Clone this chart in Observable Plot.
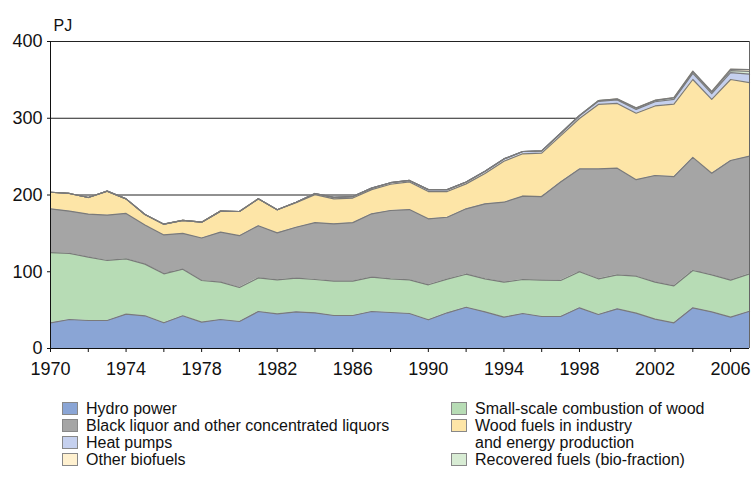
<!DOCTYPE html>
<html>
<head>
<meta charset="utf-8">
<script src="https://cdn.jsdelivr.net/npm/d3@7"></script>
<script src="https://cdn.jsdelivr.net/npm/@observablehq/plot@0.6"></script>
<style>
  body { margin: 0; background: #fff; font-family: "Liberation Sans", Arial, sans-serif; }
  #chart { width: 755px; }
  .legend { display: grid; grid-template-columns: 389px 300px; padding-left: 62px; padding-top: 10px; font-size: 16px; line-height: 17px; color: #111; }
  .item { display: flex; align-items: flex-start; }
  .sw { width: 14px; height: 11px; border: 1px solid #888; margin-right: 8px; margin-top: 2px; flex: none; }
</style>
</head>
<body>
<div id="chart"></div>
<script>
const years = d3.range(1970, 2008);
const seriesNames = ["Hydro power", "Small-scale combustion of wood", "Black liquor and other concentrated liquors", "Wood fuels in industry and energy production", "Heat pumps", "Recovered fuels (bio-fraction)", "Other biofuels"];
const seriesColors = ["#8aa5d5", "#b7dcb5", "#a5a5a5", "#fde5a7", "#c5d0ee", "#d8ecd4", "#fff1d0"];
const hydro = [33.5,37.8,36.5,36.5,44.7,42.6,33.5,42.6,34.3,37.8,35.2,48.2,45,47.8,46.5,43,43,48.2,46.9,45.6,37.4,46.5,53.8,47.8,40.8,45.6,41.7,41.7,53,44.3,51.7,46,38.2,33.5,53,47.8,40.8,48.6];
const smallScale = [91.5,86.2,82.5,78.2,72.1,67.3,63.8,60.8,54.3,48.6,44.3,43.8,44.5,43.8,43.4,44.7,44.7,44.7,43.9,43.9,45.6,43.8,43,43,45.6,44.3,47.3,46.9,47,46.5,44.3,48.2,48.2,48.2,48.6,48.2,48.2,48.7];
const blackLiquor = [57,55,56,59,59.2,51.1,50.7,46.6,55.4,65.2,67.5,68,61.2,66.4,74.1,74.7,76.3,82.6,89,91.5,86,80.7,85.2,97.7,104.2,108.6,109,128.4,134,143.2,139,125.8,139,142.3,147.4,132.4,156,153.3];
const woodFuels = [21.6,23,21.7,31.3,19,13.6,14,17,20.6,27.4,31.5,35,30,32.1,36.5,32.6,32,31.5,34.2,36,35.5,33.5,32.5,39.5,53.4,55.2,56.5,60,65.6,84,84.3,86.5,90.6,94.5,101.5,96.1,105.5,95.9];
const heatPumps = [0,0,0,0,0,0,0,0,0,0,0,0,0,0.5,1.5,2,2,2,2,2,2.5,2.5,2.5,3,3,3,3,3,3.5,4,4.5,5,5.5,6,8,7.5,9,11];
const recovered = [0,0,0,0,0,0,0,0,0,0,0,0,0,0,0,0,0,0,0,0,0,0,0,0,0,0,0,0.5,0.5,1,1,1.5,1.5,2,2,2,2.5,3.5];
const otherBio = [0,0,0,0,0,0,0,0,0,0,0,0,0,0,0,0,0,0,0,0,0,0,0,0,0,0,0,0,0,0,0.5,0.5,0.5,0.5,1,1,2,2.5];
const yTicks = [0, 100, 200, 300, 400];
const xMinorTicks = d3.range(1970, 2007, 2);
const xLabelTicks = d3.range(1970, 2007, 4);

const seriesValues = [hydro, smallScale, blackLiquor, woodFuels, heatPumps, recovered, otherBio];
const data = [];
seriesNames.forEach((name, i) => {
  years.forEach((yr, j) => data.push({year: yr, series: name, value: seriesValues[i][j]}));
});

const stackOpts = {x: "year", y: "value", z: "series", order: seriesNames};

const plot = Plot.plot({
  width: 755,
  height: 390,
  marginTop: 41,
  marginBottom: 42,
  marginLeft: 50,
  marginRight: 6,
  style: {fontFamily: "'Liberation Sans', Arial, sans-serif", fontSize: "18px", color: "#111"},
  x: {domain: [1970, 2007]},
  y: {domain: [0, 400]},
  color: {domain: seriesNames, range: seriesColors},
  marks: [
    Plot.gridY(yTicks, {stroke: "#222", strokeOpacity: 1}),
    Plot.areaY(data, {...stackOpts, fill: "series", fillOpacity: 1}),
    Plot.lineY(data, Plot.stackY2({...stackOpts, stroke: "#7a7a7a", strokeWidth: 1.2})),
    Plot.ruleX([2007], {stroke: "#666"}),
    Plot.ruleX([1970], {stroke: "#111"}),
    Plot.ruleY([0], {stroke: "#111"}),
    Plot.axisY(yTicks, {tickSize: 3, tickPadding: 5, label: null, fontSize: 18}),
    Plot.axisX(xMinorTicks, {tickSize: 4, tickFormat: () => "", label: null}),
    Plot.axisX(xLabelTicks, {tickSize: 0, tickPadding: 14, tickFormat: d => String(d), label: null, fontSize: 18}),
    Plot.text(["PJ"], {frameAnchor: "top-left", dx: 3, dy: -22, fontSize: 16})
  ]
});
document.getElementById("chart").appendChild(plot);

const legendCols = [[0, 2, 4, 6], [1, 3, 5]];
const legend = document.createElement("div");
legend.className = "legend";
legendCols.forEach(col => {
  const c = document.createElement("div");
  col.forEach(i => {
    const it = document.createElement("div");
    it.className = "item";
    const sw = document.createElement("span");
    sw.className = "sw";
    sw.style.background = seriesColors[i];
    const label = document.createElement("span");
    label.innerHTML = i === 3 ? "Wood fuels in industry<br>and energy production" : seriesNames[i];
    it.appendChild(sw); it.appendChild(label);
    c.appendChild(it);
  });
  legend.appendChild(c);
});
document.getElementById("chart").appendChild(legend);
</script>
</body>
</html>
